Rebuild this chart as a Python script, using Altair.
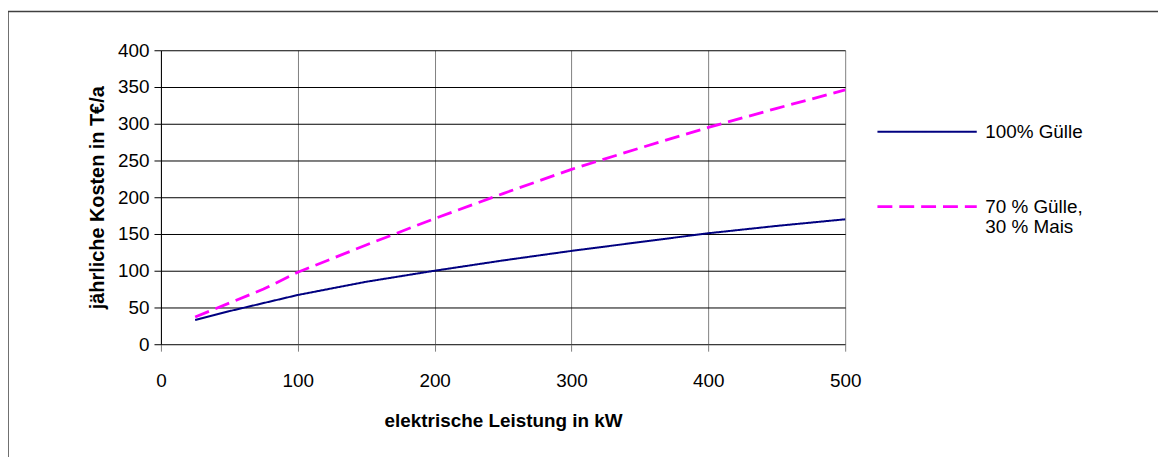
import altair as alt
import pandas as pd

leistung = [25, 50, 75, 100, 150, 200, 250, 300, 350, 400, 450, 500]
guelle = [33, 45, 56, 67, 85, 100, 114, 127, 139, 151, 161, 170]
mais = [37, 56, 75, 98, 135, 171, 205, 238, 267, 295, 321, 346]
serien = ["100% Gülle", "70 % Gülle, 30 % Mais"]
x_ticks = [0, 100, 200, 300, 400, 500]
y_ticks = [0, 50, 100, 150, 200, 250, 300, 350, 400]

rows = []
for xv, a, b in zip(leistung, guelle, mais):
    rows.append({"kW": xv, "Kosten": a, "Serie": serien[0]})
    rows.append({"kW": xv, "Kosten": b, "Serie": serien[1]})
df = pd.DataFrame(rows)

FONT = "Liberation Sans"

lines = alt.Chart(df).mark_line(clip=False).encode(
    x=alt.X("kW:Q", scale=alt.Scale(domain=[0, 500], nice=False),
            axis=alt.Axis(values=x_ticks, title="elektrische Leistung in kW",
                          grid=True, gridColor="#808080", gridOpacity=1,
                          domain=False, tickColor="#808080", tickSize=7,
                          labelFlush=False, labelPadding=21, titlePadding=21,
                          titleFontSize=19)),
    y=alt.Y("Kosten:Q", scale=alt.Scale(domain=[0, 400], nice=False),
            axis=alt.Axis(values=y_ticks, title="jährliche Kosten in T€/a",
                          grid=True, gridColor="#000000", gridOpacity=1,
                          domainColor="#000000", tickColor="#000000", tickSize=7,
                          labelFlush=False, labelPadding=5, titlePadding=10,
                          titleFontSize=20)),
    color=alt.Color("Serie:N", sort=serien,
                    scale=alt.Scale(domain=serien, range=["#000080", "#FF00FF"]),
                    legend=alt.Legend(title=None, orient="none", legendX=720, legendY=31,
                                      symbolType="stroke", symbolSize=10000,
                                      symbolStrokeWidth=2.2, rowPadding=14,
                                      labelExpr="datum.label == '70 % Gülle, 30 % Mais' ? ['70 % Gülle,', '30 % Mais'] : datum.label")),
    strokeDash=alt.StrokeDash("Serie:N", sort=serien,
                              scale=alt.Scale(domain=serien, range=[[1, 0], [15, 7]]),
                              legend=None),
    strokeWidth=alt.StrokeWidth("Serie:N", sort=serien,
                                scale=alt.Scale(domain=serien, range=[2, 2.8]),
                                legend=None),
    detail="Serie:N",
)

frame = alt.Chart(pd.DataFrame({"f": [0]})).mark_rect(
    filled=False, stroke="#404040", strokeWidth=1.5, clip=False
).encode(
    x=alt.value(-154), x2=alt.value(1400),
    y=alt.value(-39), y2=alt.value(600),
)

chart = alt.layer(frame, lines).properties(
    width=689, height=296,
    autosize=alt.AutoSizeParams(type="none"),
    padding={"left": 154, "top": 41, "right": 315, "bottom": 112},
).configure_view(stroke=None).configure_axis(
    labelFont=FONT, labelFontSize=19, labelColor="#000000",
    titleFont=FONT, titleFontWeight="bold", titleColor="#000000",
    gridWidth=1,
).configure_legend(
    labelFont=FONT, labelFontSize=19, labelColor="#000000", labelLimit=300,
    labelOffset=7,
)

chart.save("out.html", embed_options={"renderer": "svg", "actions": False})
